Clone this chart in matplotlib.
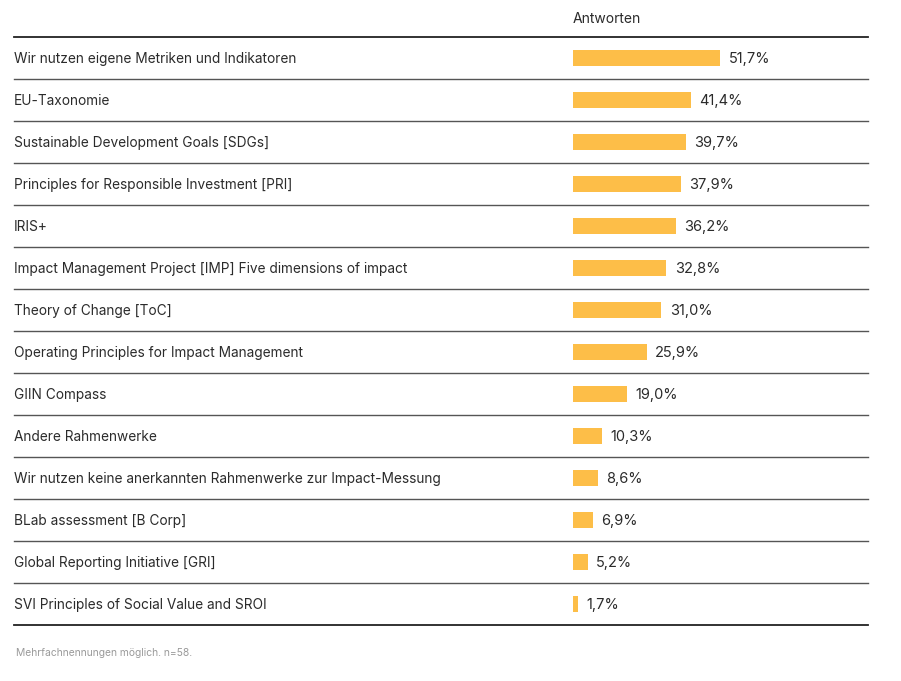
import matplotlib
matplotlib.use("Agg")
import matplotlib.pyplot as plt
import matplotlib.transforms as mtransforms

plt.rcParams['font.family'] = ['Inter', 'DejaVu Sans']

categories = [
    "Wir nutzen eigene Metriken und Indikatoren",
    "EU-Taxonomie",
    "Sustainable Development Goals [SDGs]",
    "Principles for Responsible Investment [PRI]",
    "IRIS+",
    "Impact Management Project [IMP] Five dimensions of impact",
    "Theory of Change [ToC]",
    "Operating Principles for Impact Management",
    "GIIN Compass",
    "Andere Rahmenwerke",
    "Wir nutzen keine anerkannten Rahmenwerke zur Impact-Messung",
    "BLab assessment [B Corp]",
    "Global Reporting Initiative [GRI]",
    "SVI Principles of Social Value and SROI",
]
values = [51.7, 41.4, 39.7, 37.9, 36.2, 32.8, 31.0, 25.9, 19.0, 10.3, 8.6, 6.9, 5.2, 1.7]
header = "Antworten"
footnote = "Mehrfachnennungen möglich. n=58."

W, H = 901, 681
fig = plt.figure(figsize=(W / 100, H / 100), dpi=100)

# axes spans the table area (pixels 14..868 horizontally, 37..625 vertically)
left_px, right_px, top_px, bot_px = 14, 868, 37, 625
ax = fig.add_axes([left_px / W, 1 - bot_px / H, (right_px - left_px) / W, (bot_px - top_px) / H])
px_per_pct = 2.85
zero_px = 573
ax.set_xlim(-(zero_px - left_px) / px_per_pct, (right_px - zero_px) / px_per_pct)
n = len(categories)
ax.set_ylim(n - 0.5, -0.5)
ax.axis("off")

bar_color = "#FDBE48"
ypos = list(range(n))
ax.barh(ypos, values, height=0.36, color=bar_color, left=0)

trans = mtransforms.blended_transform_factory(ax.transAxes, ax.transData)
for i, (cat, v) in enumerate(zip(categories, values)):
    ax.text(0.0, i + 0.02, cat, transform=trans, ha="left", va="center",
            fontsize=9.85, color="#2b2b2b")
    ax.annotate(f"{v:.1f}%".replace(".", ","), xy=(v, i + 0.02), xytext=(6, 0),
                textcoords="offset points", ha="left", va="center",
                fontsize=10.5, color="#2b2b2b")

# row separators
for k in range(n + 1):
    y = k - 0.5
    strong = k in (0, n)
    ax.axhline(y, color="#222222" if strong else "#555555",
               lw=1.3 if strong else 1.0, clip_on=False)

fig.text(zero_px / W, 1 - 19 / H, header, ha="left", va="center",
         fontsize=10, color="#2b2b2b")
fig.text(16 / W, 1 - 653 / H, footnote, ha="left", va="center",
         fontsize=7.4, color="#9a9a9a")

fig.savefig("out.png", dpi=100)
